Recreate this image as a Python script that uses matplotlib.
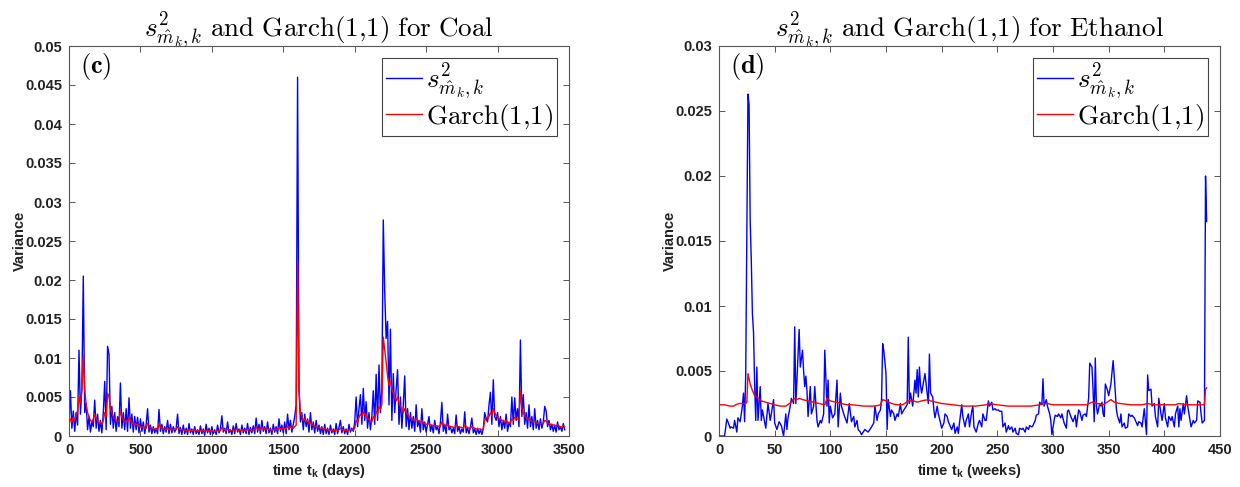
import numpy as np
import matplotlib
matplotlib.use("Agg")
import matplotlib.pyplot as plt
from matplotlib.ticker import FuncFormatter, MultipleLocator

plt.rcParams['font.family'] = ['Liberation Sans', 'DejaVu Sans']
plt.rcParams['mathtext.fontset'] = 'cm'
plt.rcParams['mathtext.bf'] = 'Liberation Sans:bold'

# ---------------- Coal (daily), values in units of 1e-4 ----------------
coal_step_days = 10
coal_sample_var = [
    15, 58, 10, 32, 6, 30, 14, 110, 28, 60,
    205, 30, 42, 8, 25, 5, 18, 12, 46, 10,
    28, 6, 20, 4, 30, 70, 8, 115, 105, 15,
    38, 10, 30, 6, 25, 12, 68, 10, 30, 8,
    35, 6, 49, 10, 28, 5, 25, 8, 24, 4,
    22, 6, 18, 3, 15, 35, 5, 14, 3, 12,
    4, 10, 3, 34, 6, 15, 3, 12, 5, 20,
    3, 15, 4, 12, 5, 10, 28, 3, 11, 2,
    14, 3, 10, 2, 16, 4, 9, 2, 12, 3,
    8, 2, 13, 3, 9, 1, 15, 4, 10, 2,
    12, 3, 8, 2, 14, 4, 9, 26, 5, 10,
    3, 18, 4, 8, 2, 13, 3, 16, 5, 9,
    2, 14, 4, 10, 3, 16, 2, 11, 4, 13,
    3, 23, 5, 15, 3, 20, 6, 12, 3, 18,
    4, 10, 2, 15, 5, 12, 3, 22, 6, 14,
    4, 18, 3, 28, 8, 20, 5, 15, 25, 40,
    460, 60, 18, 30, 8, 28, 12, 22, 5, 30,
    8, 18, 4, 20, 6, 14, 3, 12, 2, 15,
    3, 10, 2, 14, 4, 9, 2, 16, 3, 11,
    20, 4, 12, 3, 9, 2, 15, 5, 10, 6,
    18, 50, 12, 35, 53, 15, 61, 20, 44, 10,
    30, 8, 25, 58, 15, 79, 20, 91, 30, 60,
    277, 185, 125, 147, 40, 137, 20, 80, 30, 60,
    85, 15, 50, 10, 40, 77, 12, 35, 8, 30,
    10, 25, 6, 40, 12, 20, 5, 35, 8, 18,
    5, 15, 25, 6, 14, 4, 20, 8, 12, 3,
    18, 43, 6, 15, 3, 28, 8, 12, 4, 10,
    3, 27, 6, 12, 3, 9, 5, 31, 4, 10,
    3, 12, 23, 4, 9, 2, 10, 3, 8, 2,
    9, 30, 22, 18, 40, 56, 15, 72, 25, 20,
    30, 12, 25, 8, 20, 10, 28, 6, 18, 12,
    50, 15, 49, 20, 35, 12, 123, 25, 53, 15,
    30, 10, 40, 12, 25, 8, 35, 10, 20, 8,
    22, 10, 18, 38, 32, 12, 20, 8, 15, 6,
    14, 5, 18, 8, 12, 6, 16, 8,
]
coal_garch = [
    14, 22, 18, 24, 20, 28, 32, 50, 42, 60,
    103, 60, 40, 30, 25, 20, 18, 22, 28, 22,
    20, 16, 18, 15, 20, 30, 25, 55, 50, 35,
    30, 25, 22, 20, 18, 20, 32, 25, 20, 18,
    20, 18, 24, 20, 18, 15, 16, 14, 15, 13,
    12, 11, 12, 10, 10, 16, 13, 11, 10, 9,
    9, 9, 8, 15, 12, 10, 9, 9, 8, 10,
    8, 9, 8, 8, 9, 8, 12, 10, 8, 8,
    8, 7, 7, 7, 8, 7, 7, 8, 8, 7,
    7, 6, 7, 6, 7, 6, 7, 7, 7, 6,
    7, 6, 6, 6, 7, 7, 7, 11, 9, 8,
    7, 9, 8, 7, 7, 8, 7, 9, 8, 7,
    7, 8, 7, 8, 7, 9, 8, 8, 7, 8,
    8, 11, 9, 10, 8, 11, 9, 9, 8, 10,
    8, 8, 7, 9, 8, 9, 8, 11, 9, 10,
    9, 10, 9, 13, 11, 12, 10, 10, 12, 14,
    225, 60, 30, 25, 20, 22, 18, 20, 16, 18,
    14, 14, 12, 13, 11, 11, 10, 10, 9, 10,
    8, 8, 7, 8, 7, 7, 7, 8, 7, 8,
    10, 8, 8, 7, 7, 7, 8, 8, 8, 8,
    10, 20, 18, 24, 28, 25, 31, 28, 27, 22,
    22, 18, 18, 25, 22, 32, 28, 38, 35, 40,
    127, 110, 95, 77, 65, 70, 60, 55, 50, 45,
    50, 42, 38, 34, 30, 35, 30, 28, 25, 24,
    22, 21, 19, 22, 20, 19, 17, 20, 17, 16,
    15, 15, 16, 14, 14, 13, 14, 13, 13, 12,
    13, 18, 15, 14, 12, 15, 13, 12, 12, 11,
    11, 14, 12, 12, 11, 11, 10, 14, 12, 11,
    10, 10, 12, 11, 10, 9, 9, 9, 9, 8,
    9, 20, 24, 22, 25, 30, 26, 35, 30, 26,
    25, 22, 22, 20, 20, 18, 20, 17, 17, 17,
    22, 20, 24, 22, 22, 20, 59, 35, 30, 26,
    24, 21, 22, 20, 19, 18, 19, 17, 16, 16,
    16, 16, 16, 20, 19, 17, 16, 15, 15, 14,
    14, 13, 14, 13, 12, 12, 13, 12,
]

# ---------------- Ethanol (weekly), values in units of 1e-4 ----------------
eth_weeks = [
    0, 1, 3, 5, 7, 8, 10, 11, 13, 14, 16, 17, 19, 20, 21, 22, 23, 24, 26, 27,
    28, 29, 30, 31, 32, 33, 34, 35, 37, 38, 39, 42, 44, 46, 47, 49, 50, 52, 54, 56,
    58, 60, 61, 62, 64, 65, 67, 68, 69, 70, 72, 73, 75, 76, 77, 78, 79, 80, 82, 83,
    85, 86, 88, 89, 91, 92, 94, 95, 97, 98, 99, 100, 102, 104, 106, 107, 109, 110, 112, 115,
    117, 119, 121, 122, 124, 125, 127, 128, 131, 134, 137, 139, 140, 142, 143, 145, 146, 147, 148, 150,
    151, 152, 154, 155, 157, 158, 160, 161, 163, 164, 166, 169, 170, 171, 172, 174, 176, 177, 178, 179,
    180, 181, 182, 184, 185, 187, 188, 189, 190, 192, 193, 194, 196, 197, 199, 200, 202, 203, 205, 206,
    208, 209, 211, 212, 214, 215, 216, 218, 219, 221, 222, 224, 225, 227, 228, 229, 231, 233, 234, 236,
    237, 239, 240, 242, 243, 245, 246, 248, 249, 251, 252, 254, 255, 257, 258, 260, 261, 263, 264, 266,
    267, 269, 270, 272, 273, 275, 276, 278, 279, 281, 282, 284, 285, 287, 288, 290, 291, 292, 294, 295,
    297, 298, 299, 301, 302, 304, 305, 307, 308, 310, 312, 313, 314, 316, 318, 320, 321, 323, 324, 326,
    327, 329, 330, 332, 333, 335, 336, 337, 338, 339, 340, 342, 343, 344, 345, 346, 347, 349, 350, 352,
    354, 355, 357, 358, 360, 361, 362, 364, 365, 367, 368, 370, 371, 373, 374, 376, 377, 379, 380, 382,
    384, 385, 386, 388, 389, 391, 392, 394, 395, 397, 398, 400, 401, 403, 404, 406, 407, 409, 410, 412,
    413, 414, 415, 417, 418, 420, 421, 423, 424, 426, 427, 429, 430, 432, 433, 434, 436, 437, 438,
]
eth_sample_var = [
    0, 0, 0, 0, 13, 11, 6, 7, 6, 12, 3, 14, 11, 17, 23, 33, 11, 48, 263, 255,
    166, 135, 94, 80, 40, 12, 53, 12, 38, 12, 20, 6, 25, 12, 17, 28, 10, 5, 11, 8,
    0, 17, 5, 14, 23, 29, 25, 84, 25, 43, 82, 53, 66, 50, 38, 46, 35, 15, 38, 17,
    23, 38, 12, 7, 12, 10, 17, 66, 23, 43, 10, 23, 14, 17, 43, 7, 33, 23, 17, 10,
    25, 11, 15, 7, 12, 5, 3, 1, 5, 3, 7, 10, 23, 12, 17, 20, 28, 71, 66, 48,
    5, 28, 15, 20, 17, 12, 17, 15, 25, 17, 20, 24, 76, 25, 33, 23, 43, 33, 51, 30,
    53, 39, 33, 43, 48, 33, 25, 63, 33, 30, 20, 14, 23, 17, 10, 6, 10, 17, 15, 11,
    7, 5, 10, 2, 7, 2, 10, 24, 15, 7, 12, 17, 7, 19, 23, 7, 3, 10, 12, 7,
    17, 12, 12, 27, 23, 26, 20, 21, 20, 20, 19, 19, 7, 10, 3, 8, 5, 7, 3, 6,
    2, 1, 6, 5, 6, 3, 7, 5, 8, 7, 8, 12, 16, 17, 26, 24, 44, 23, 28, 23,
    17, 12, 1, 12, 16, 15, 17, 14, 17, 10, 6, 19, 20, 15, 11, 16, 7, 20, 19, 12,
    16, 17, 15, 29, 56, 53, 35, 11, 60, 23, 17, 25, 23, 26, 17, 15, 40, 35, 31, 40,
    58, 46, 20, 15, 10, 17, 7, 10, 6, 7, 17, 15, 16, 14, 12, 8, 11, 10, 7, 21,
    1, 47, 35, 36, 23, 25, 15, 7, 29, 17, 12, 25, 14, 7, 15, 12, 15, 7, 17, 23,
    7, 21, 12, 25, 17, 31, 23, 12, 7, 12, 10, 12, 27, 26, 17, 10, 12, 200, 165,
]
eth_garch_weeks = [
    0, 5, 10, 13, 15, 18, 20, 24, 25, 26, 28, 30, 32, 35, 38, 42, 46, 50, 55, 60,
    65, 68, 70, 72, 75, 80, 85, 90, 95, 97, 100, 105, 110, 115, 120, 130, 140, 145, 147, 150,
    155, 160, 165, 170, 175, 178, 182, 188, 190, 195, 200, 210, 220, 230, 240, 242, 250, 260, 270, 280,
    288, 291, 295, 300, 310, 320, 330, 335, 340, 345, 352, 355, 360, 370, 380, 385, 390, 400, 410, 413,
    420, 430, 436, 437, 438,
]
eth_garch = [
    24, 24, 23, 23, 24, 25, 25, 25, 26, 48, 40, 35, 31, 29, 27, 26, 25, 24, 23, 23,
    26, 29, 28, 29, 28, 27, 26, 25, 24, 29, 27, 26, 25, 24, 24, 23, 23, 24, 28, 27,
    25, 24, 24, 27, 27, 26, 27, 28, 27, 26, 25, 24, 23, 23, 24, 25, 24, 23, 23, 23,
    24, 25, 25, 24, 24, 24, 24, 26, 25, 24, 28, 26, 25, 24, 24, 25, 24, 24, 24, 25,
    24, 24, 24, 36, 37,
]

UNIT = 1e-4
coal_days = np.arange(len(coal_sample_var)) * coal_step_days
coal_s2 = np.array(coal_sample_var) * UNIT
coal_g = np.array(coal_garch) * UNIT
eth_w = np.array(eth_weeks)
eth_s2 = np.array(eth_sample_var) * UNIT
eth_gw = np.array(eth_garch_weeks)
eth_g = np.array(eth_garch) * UNIT

fig = plt.figure(figsize=(12.4, 4.87), dpi=100)
ax1 = fig.add_axes([69 / 1240, 51 / 487, 500 / 1240, 390 / 487])
ax2 = fig.add_axes([719 / 1240, 51 / 487, 501 / 1240, 390 / 487])

label_s2 = r'$s^2_{\hat{m}_k,k}$'
label_g = r'$\mathrm{Garch(1{,}1)}$'


def fmt(v, pos):
    if abs(v) < 1e-12:
        return '0'
    return ('%.3f' % v).rstrip('0').rstrip('.')


def style(ax, xmax, xstep, ymax, xunit, panel, name):
    ax.set_xlim(0, xmax)
    ax.set_ylim(0, ymax)
    ax.xaxis.set_major_locator(MultipleLocator(xstep))
    ax.yaxis.set_major_locator(MultipleLocator(0.005))
    ax.yaxis.set_major_formatter(FuncFormatter(fmt))
    ax.tick_params(direction='in', top=True, right=True, length=4,
                   width=0.7, color='#555555', labelsize=10.5, pad=5,
                   labelcolor='#222222')
    for t in ax.get_xticklabels() + ax.get_yticklabels():
        t.set_fontweight('bold')
    for sp in ax.spines.values():
        sp.set_color('#555555')
        sp.set_linewidth(0.8)
    ax.set_ylabel('Variance', fontsize=10.5, fontweight='bold', labelpad=-1,
                  color='#222222')
    ax.set_xlabel(r'time t$_{\mathbf{k}}$ (' + xunit + ')', fontsize=10.5,
                  fontweight='bold', math_fontfamily='custom', color='#222222')
    ax.set_title(r'$s^2_{\hat{m}_k,k}\ \mathrm{and\ Garch(1{,}1)\ for\ ' + name + '}$',
                 fontsize=19.5, pad=7)
    ax.text(0.022, 0.947, r'$\mathbf{(' + panel + ')}$', transform=ax.transAxes,
            fontsize=19, va='center', ha='left')
    leg = ax.legend(loc='upper right', fontsize=19.5, handlelength=1.35,
                    handletextpad=0.15, labelspacing=0.0, borderpad=0.12,
                    borderaxespad=0.45, fancybox=False, framealpha=1)
    leg.get_frame().set_edgecolor('#444444')
    leg.get_frame().set_linewidth(0.8)


ax1.plot(coal_days, coal_s2, color='#0000ff', lw=1.0, label=label_s2)
ax1.plot(coal_days, coal_g, color='#ff0000', lw=1.0, label=label_g)
style(ax1, 3500, 500, 0.05, 'days', 'c', 'Coal')

ax2.plot(eth_w, eth_s2, color='#0000ff', lw=1.0, label=label_s2)
ax2.plot(eth_gw, eth_g, color='#ff0000', lw=1.0, label=label_g)
style(ax2, 450, 50, 0.03, 'weeks', 'd', 'Ethanol')

fig.savefig('out.png', dpi=100)
